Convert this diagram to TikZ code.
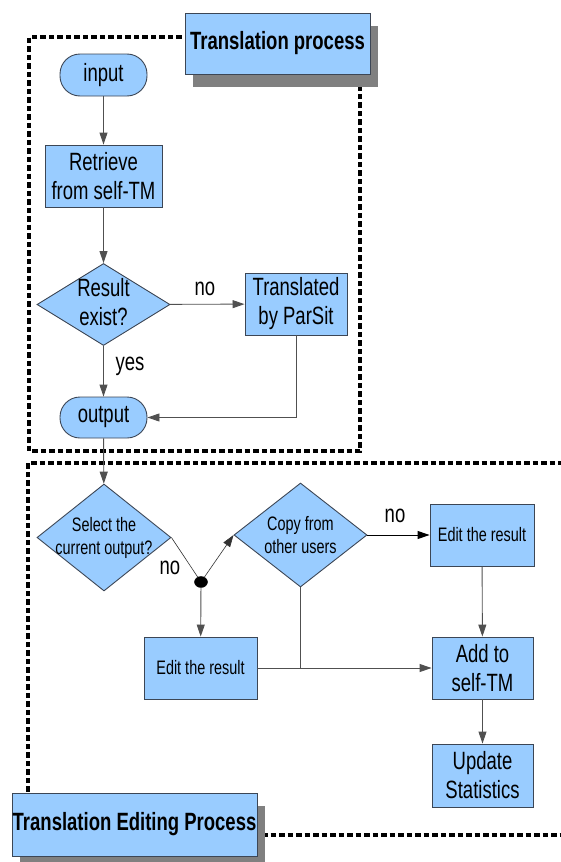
\documentclass[tikz,border=0pt]{standalone}
\usepackage{fontspec}
\setmainfont{Liberation Sans}[FakeStretch=0.74]
\usetikzlibrary{shapes.geometric,arrows.meta,shadows}
\definecolor{boxblue}{RGB}{153,204,255}
\definecolor{boxline}{RGB}{60,70,85}
\definecolor{conn}{RGB}{80,80,80}
\tikzset{
  big/.style={font=\fontsize{25}{29}\selectfont},
  small/.style={font=\fontsize{19.5}{23}\selectfont},
  proc/.style={draw=boxline, line width=0.9pt, fill=boxblue, rectangle, inner sep=0pt, align=center},
  term/.style={proc, rounded corners=20pt},
  dia/.style={draw=boxline, line width=0.9pt, fill=boxblue, diamond, inner sep=0pt},
  txt/.style={inner sep=0pt, align=center},
  ttl/.style={proc, font=\fontsize{25}{29}\selectfont\bfseries,
    drop shadow={shadow xshift=8pt, shadow yshift=-13pt, fill=black!50, opacity=1}},
  frame/.style={line width=3.2pt, dash pattern=on 5.5pt off 3pt},
  flow/.style={draw=conn, line width=0.9pt, -{Triangle[length=12pt,width=8pt]}},
  link/.style={draw=conn, line width=0.9pt},
}
\begin{document}
\begin{tikzpicture}[x=1pt,y=-1pt]
\useasboundingbox (0,0) rectangle (561,862);
% frames
\draw[frame] (190,37) -- (29,37) -- (29,451) -- (360,451) -- (360,70);
\draw[frame] (28,800) -- (28,463) -- (561,463);
\draw[frame] (262,835) -- (561,835);
% titles
\node[ttl, minimum width=185pt, minimum height=61pt] (t1) at (277.5,43.5) {Translation process};
\node[ttl, minimum width=245pt, minimum height=63pt] (t2) at (134.5,824.5) {Translation Editing Process};
% top part
\node[term, big, minimum width=87pt, minimum height=42pt] (in) at (103.5,75) {input};
\node[proc, big, minimum width=117pt, minimum height=62pt] (ret) at (103.5,176) {Retrieve\\from self-TM};
\node[dia, minimum width=133pt, minimum height=82pt] (res) at (103.5,304.5) {};
\node[txt, big] (rest) at (103.5,302) {Result\\exist?};
\node[proc, big, minimum width=102pt, minimum height=62pt] (par) at (296,304) {Translated\\by ParSit};
\node[term, big, minimum width=87pt, minimum height=41pt] (out) at (103.5,417.5) {output};
\draw[flow] (in) -- (ret);
\draw[flow] (ret) -- (res);
\draw[flow] (res) -- (par);
\draw[flow] (res) -- (out);
\draw[flow] (par.south) |- (out.east);
\node[txt, big] (lno1) at (205,289) {no};
\node[txt, big] (lyes) at (130,366) {yes};
% bottom part
\node[dia, minimum width=134pt, minimum height=107pt] (sel) at (104,537.5) {};
\node[txt, small] (selt) at (104,538) {Select the\\current output?};
\draw[flow] (out) -- (sel);
\node[ellipse, fill=black, draw=black, minimum width=13pt, minimum height=11pt, inner sep=0pt] (dot) at (201,582) {};
\draw[link, draw=black!80, line width=0.6pt] (sel.east) -- (dot);
\node[txt, big] (lno2) at (170,568) {no};
\node[dia, minimum width=133pt, minimum height=104pt] (cop) at (300.5,535) {};
\node[txt, small] (copt) at (300.5,535) {Copy from\\other users};
\node[proc, small, minimum width=104pt, minimum height=62pt] (edr) at (482,535) {Edit the result};
\node[proc, small, minimum width=113pt, minimum height=62pt] (edc) at (200.5,668) {Edit the result};
\node[proc, big, minimum width=101pt, minimum height=62pt] (add) at (482.5,668) {Add to\\self-TM};
\node[proc, big, minimum width=101pt, minimum height=63pt] (upd) at (482.5,775.5) {Update\\Statistics};
\draw[flow, draw=black!80, line width=0.6pt] (dot) -- (cop.west);
\draw[flow] (dot) -- (edc);
\draw[flow, draw=black] (cop) -- (edr);
\node[txt, big] (lno3) at (395,516) {no};
\draw[flow] (edr) -- (add);
\draw[flow] (add) -- (upd);
\draw[flow] (edc) -- (add);
\draw[link] (cop.south) -- (cop.south |- add.west);
\end{tikzpicture}
\end{document}
